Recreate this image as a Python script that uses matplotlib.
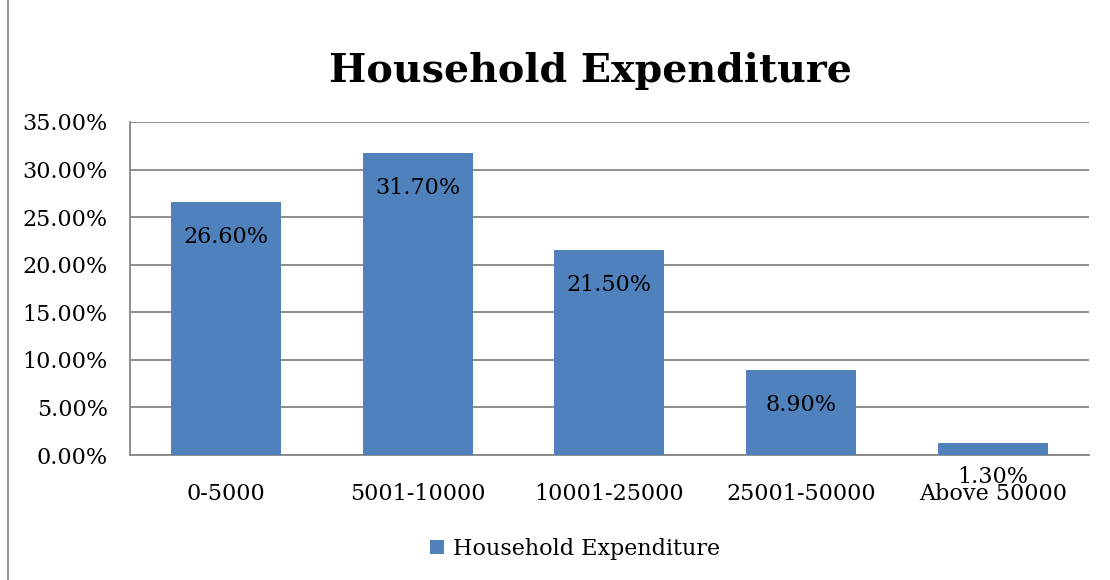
import matplotlib
matplotlib.use("Agg")
import matplotlib.pyplot as plt
from matplotlib.lines import Line2D
from matplotlib.patches import Patch
from matplotlib.ticker import FuncFormatter

categories = ["0-5000", "5001-10000", "10001-25000", "25001-50000", "Above 50000"]
values = [26.6, 31.7, 21.5, 8.9, 1.3]
series_name = "Household Expenditure"
y_ticks = [0, 5, 10, 15, 20, 25, 30, 35]

BAR_COLOR = "#4F81BD"
GRID_COLOR = "#868686"
FONT = "DejaVu Serif"

plt.rcParams["font.family"] = FONT

fig = plt.figure(figsize=(11.1, 5.8), dpi=100)
ax = fig.add_axes([0.117, 0.2155, 0.864, 0.5742])

x = range(len(categories))
bars = ax.bar(x, values, width=0.573, color=BAR_COLOR, zorder=3)

# data labels sit just inside the top of each bar
for bar, val in zip(bars, values):
    ax.annotate(
        f"{val:.2f}%",
        (bar.get_x() + bar.get_width() / 2, bar.get_height()),
        textcoords="offset points",
        xytext=(0, -25),
        ha="center",
        va="center",
        fontsize=16,
        zorder=4,
    )

ax.set_xlim(-0.5, len(categories) - 0.5)
ax.set_ylim(0, 35)
ax.set_yticks(y_ticks)
ax.yaxis.set_major_formatter(FuncFormatter(lambda v, _: f"{v:.2f}%"))
ax.set_xticks(list(x))
ax.set_xticklabels(categories)
ax.tick_params(axis="both", length=0, labelsize=16)
ax.tick_params(axis="y", pad=16)
ax.tick_params(axis="x", pad=20)

ax.grid(axis="y", color=GRID_COLOR, linewidth=1.3, zorder=0)
for side in ["top", "right"]:
    ax.spines[side].set_visible(False)
for side in ["left", "bottom"]:
    ax.spines[side].set_color(GRID_COLOR)
    ax.spines[side].set_linewidth(1.3)

fig.text(0.532, 0.877, "Household Expenditure", ha="center", va="center",
         fontsize=28.5, fontweight="bold")

handle = Patch(facecolor=BAR_COLOR, edgecolor="none")
fig.legend([handle], [series_name], loc="center", bbox_to_anchor=(0.518, 0.053),
           frameon=False, fontsize=16, handlelength=0.6, handleheight=0.6,
           handletextpad=0.4)

# page border line on the left
fig.add_artist(Line2D([0.0072, 0.0072], [0, 1], color="#8c8c8c", linewidth=1.3))

fig.savefig("out.png", dpi=100)
